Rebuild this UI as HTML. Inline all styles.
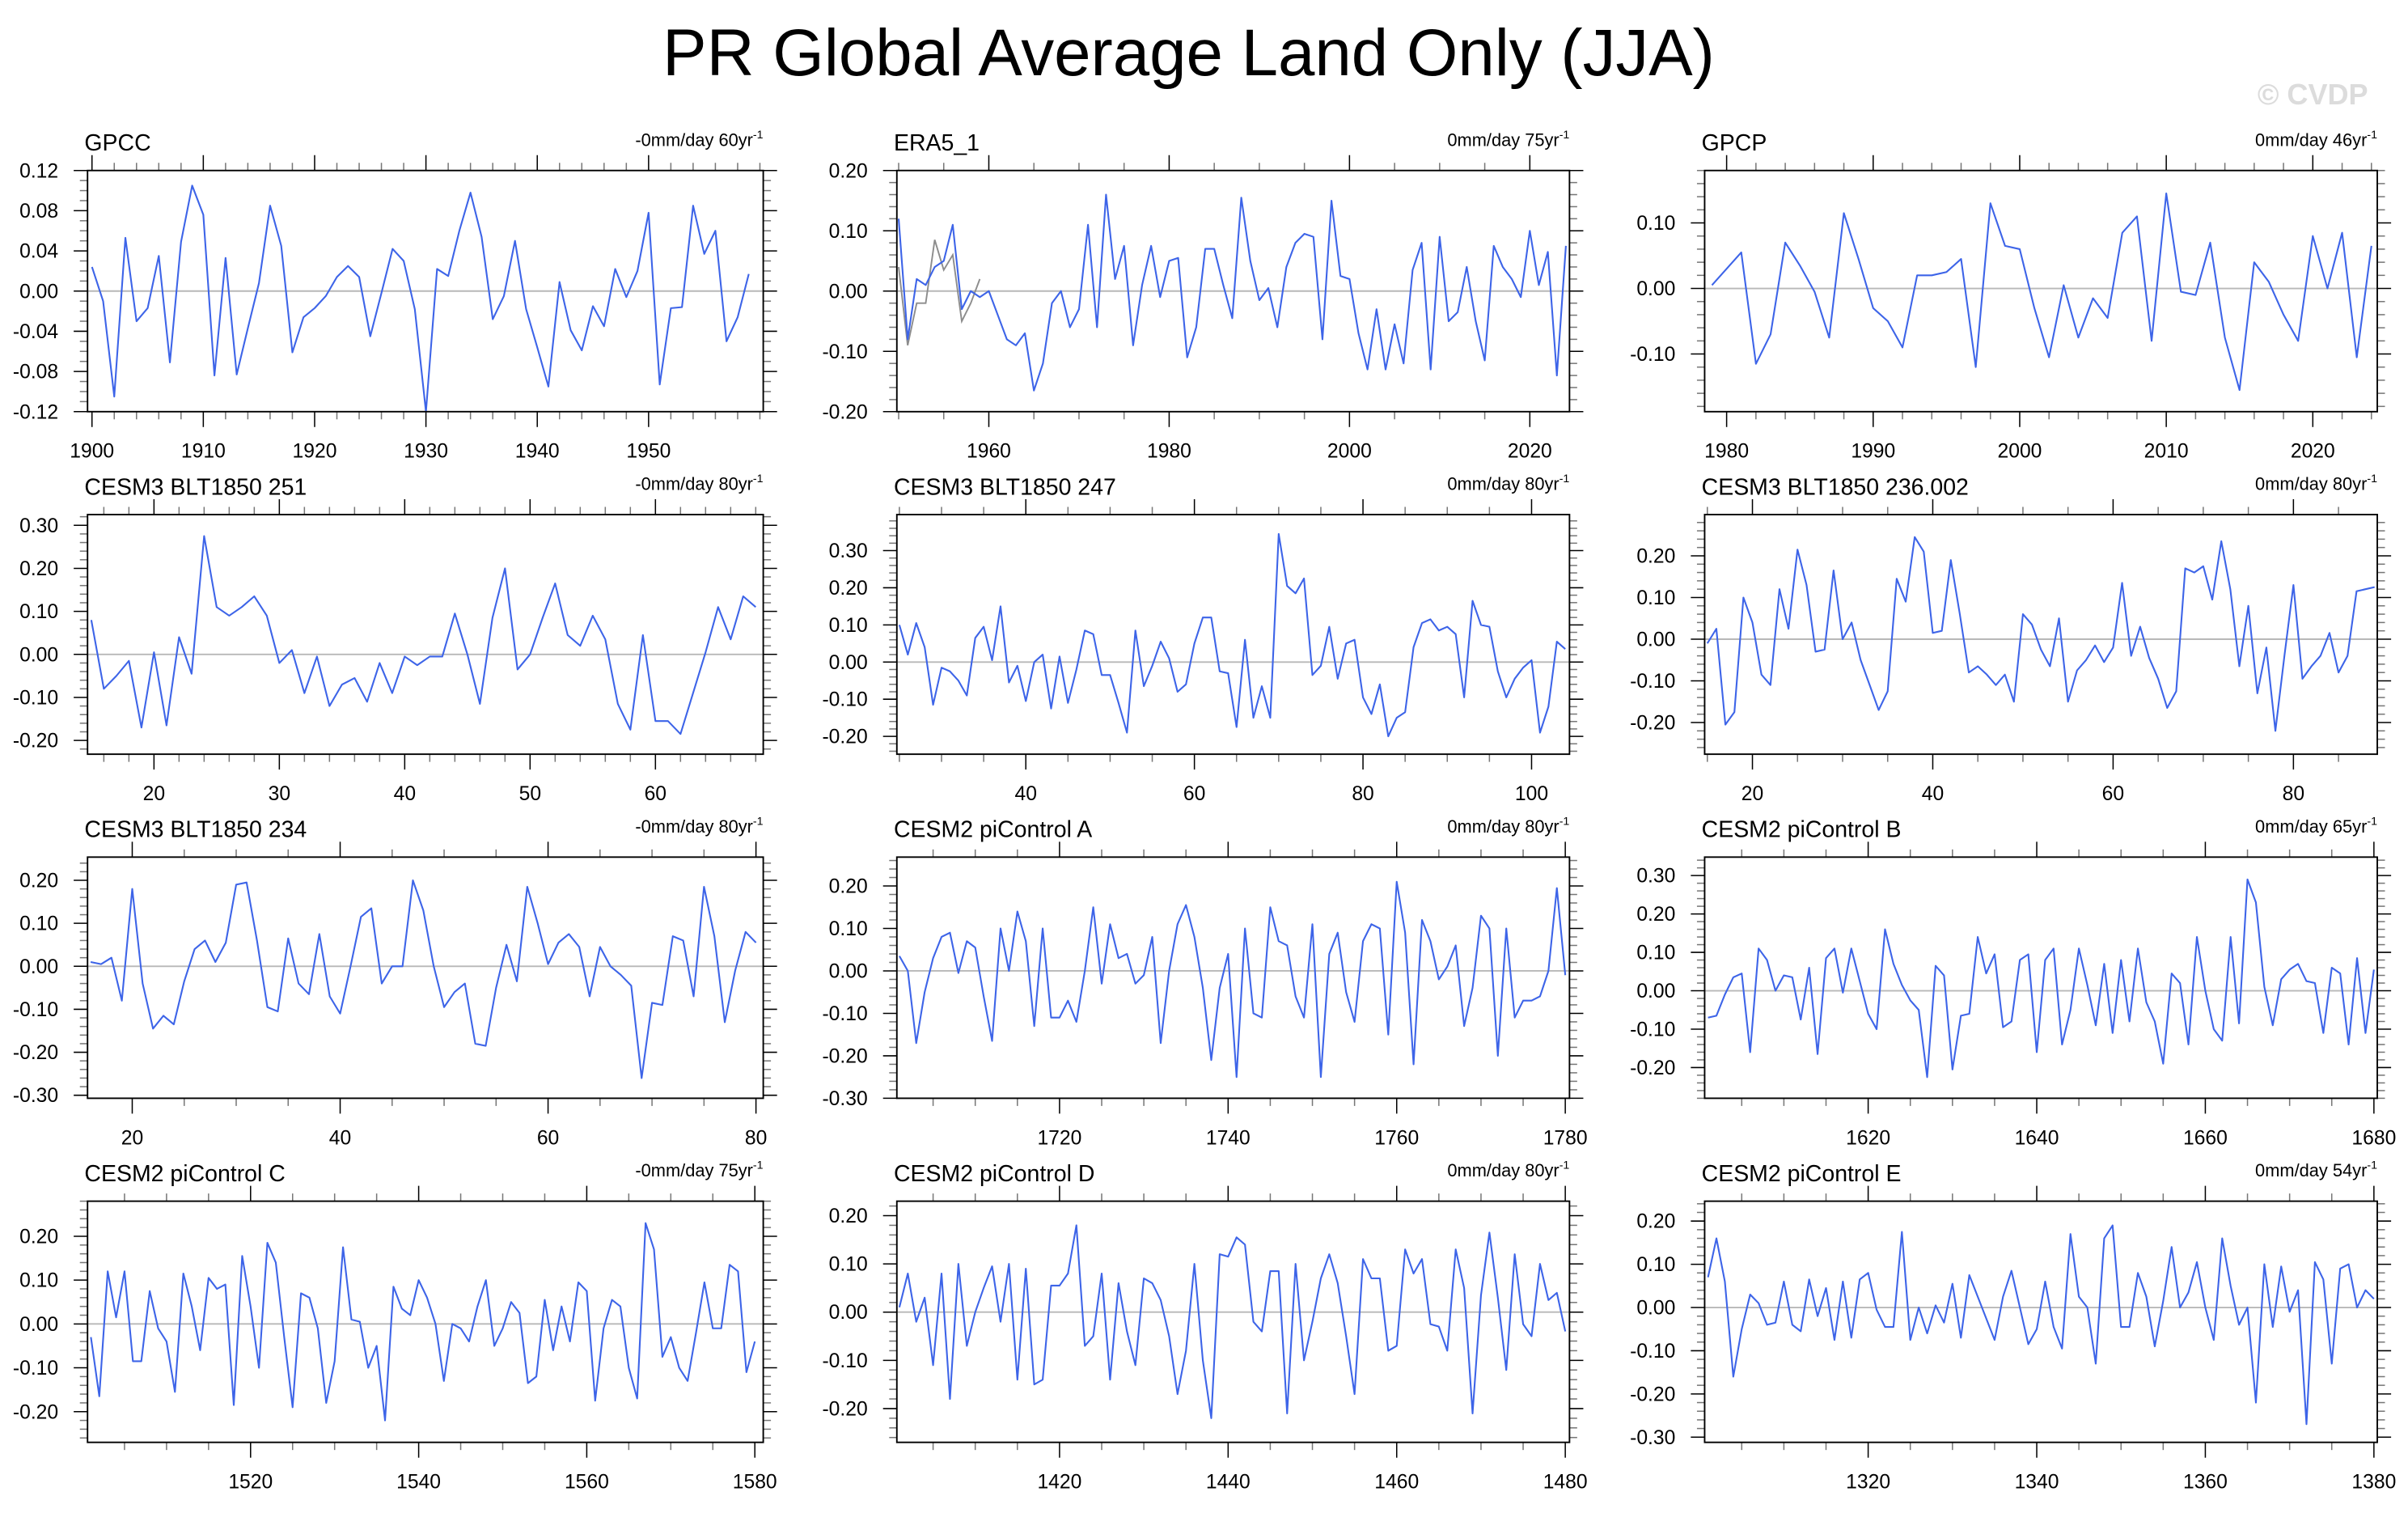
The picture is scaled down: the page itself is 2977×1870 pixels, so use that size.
<!DOCTYPE html>
<html><head><meta charset="utf-8"><title>PR Global Average Land Only (JJA)</title>
<style>
html,body{margin:0;padding:0;background:#fff;}
svg{display:block;font-family:"Liberation Sans",Arial,sans-serif;}
</style></head>
<body>
<svg id="fig" width="2977" height="1870" viewBox="0 0 1568 985" preserveAspectRatio="none" xmlns="http://www.w3.org/2000/svg">
<text x="774" y="49" text-anchor="middle" font-size="43">PR Global Average Land Only (JJA)</text>
<text x="1542" y="68" text-anchor="end" font-size="19" font-weight="bold" fill="#dcdcdc">© CVDP</text>
<g id="panels"></g>
</svg>
<script>
// ---- data arrays ----
const gpccStart = 1900;
const gpccVals = [0.024,-0.010,-0.105,0.053,-0.030,-0.017,0.035,-0.071,0.049,0.105,0.076,-0.084,0.033,-0.083,-0.037,0.008,0.085,0.045,-0.061,-0.026,-0.017,-0.005,0.014,0.025,0.014,-0.045,-0.002,0.042,0.030,-0.018,-0.120,0.022,0.015,0.060,0.098,0.054,-0.028,-0.005,0.050,-0.018,-0.056,-0.095,0.009,-0.039,-0.059,-0.015,-0.035,0.022,-0.006,0.020,0.078,-0.093,-0.017,-0.016,0.085,0.037,0.060,-0.050,-0.026,0.017];
const era5Start = 1950;
const era5Vals = [0.12,-0.08,0.02,0.01,0.04,0.05,0.11,-0.03,0.00,-0.01,0.00,-0.04,-0.08,-0.09,-0.07,-0.165,-0.12,-0.02,0.00,-0.06,-0.03,0.11,-0.06,0.16,0.02,0.075,-0.09,0.01,0.075,-0.01,0.05,0.055,-0.11,-0.06,0.07,0.07,0.01,-0.045,0.155,0.05,-0.015,0.005,-0.06,0.04,0.08,0.095,0.09,-0.08,0.15,0.025,0.02,-0.07,-0.13,-0.03,-0.13,-0.055,-0.12,0.035,0.08,-0.13,0.09,-0.05,-0.035,0.04,-0.05,-0.115,0.075,0.04,0.02,-0.01,0.10,0.01,0.065,-0.14,0.075];
const era5bStart = 1950;
const era5bVals = [0.04,-0.09,-0.02,-0.02,0.085,0.035,0.06,-0.05,-0.02,0.02];
const gpcpStart = 1979;
const gpcpVals = [0.005,0.03,0.055,-0.115,-0.07,0.07,0.035,-0.005,-0.075,0.115,0.045,-0.03,-0.05,-0.09,0.02,0.02,0.025,0.045,-0.12,0.13,0.065,0.06,-0.03,-0.105,0.005,-0.075,-0.015,-0.045,0.085,0.11,-0.08,0.145,-0.005,-0.01,0.07,-0.075,-0.155,0.04,0.01,-0.04,-0.08,0.08,0.0,0.085,-0.105,0.065];
const c251Start = 15;
const c251Vals = [0.08,-0.08,-0.05,-0.015,-0.17,0.005,-0.165,0.04,-0.045,0.275,0.11,0.09,0.11,0.135,0.09,-0.02,0.01,-0.09,-0.005,-0.12,-0.07,-0.055,-0.11,-0.02,-0.09,-0.005,-0.025,-0.005,-0.005,0.095,0.0,-0.115,0.085,0.20,-0.035,0.0,0.085,0.165,0.045,0.02,0.09,0.035,-0.115,-0.175,0.045,-0.155,-0.155,-0.185,-0.09,0.005,0.11,0.035,0.135,0.11];
const c247Start = 25;
const c247Vals = [0.10,0.02,0.105,0.04,-0.115,-0.015,-0.025,-0.05,-0.09,0.065,0.095,0.005,0.15,-0.055,-0.01,-0.105,0.0,0.02,-0.125,0.015,-0.11,-0.02,0.085,0.075,-0.035,-0.035,-0.11,-0.19,0.085,-0.065,-0.01,0.055,0.01,-0.08,-0.06,0.05,0.12,0.12,-0.025,-0.03,-0.175,0.06,-0.15,-0.065,-0.15,0.345,0.205,0.185,0.225,-0.035,-0.01,0.095,-0.045,0.05,0.06,-0.095,-0.14,-0.06,-0.2,-0.15,-0.135,0.04,0.105,0.115,0.085,0.095,0.075,-0.095,0.165,0.10,0.095,-0.025,-0.095,-0.045,-0.015,0.005,-0.19,-0.12,0.055,0.035];
const c236Start = 15;
const c236Vals = [-0.01,0.025,-0.205,-0.175,0.10,0.04,-0.085,-0.11,0.12,0.025,0.215,0.13,-0.03,-0.025,0.165,0.0,0.04,-0.05,-0.11,-0.17,-0.125,0.145,0.09,0.245,0.21,0.015,0.02,0.19,0.06,-0.08,-0.065,-0.085,-0.11,-0.085,-0.15,0.06,0.035,-0.025,-0.065,0.05,-0.15,-0.075,-0.05,-0.015,-0.055,-0.02,0.135,-0.04,0.03,-0.045,-0.095,-0.165,-0.125,0.17,0.16,0.175,0.095,0.235,0.12,-0.065,0.08,-0.13,-0.02,-0.22,-0.04,0.13,-0.095,-0.065,-0.04,0.015,-0.08,-0.04,0.115,0.12,0.125];
const c234Start = 16;
const c234Vals = [0.01,0.005,0.02,-0.08,0.18,-0.04,-0.145,-0.115,-0.135,-0.035,0.04,0.06,0.01,0.055,0.19,0.195,0.06,-0.095,-0.105,0.065,-0.04,-0.065,0.075,-0.07,-0.11,0.0,0.115,0.135,-0.04,0.0,0.0,0.20,0.13,0.0,-0.095,-0.06,-0.04,-0.18,-0.185,-0.05,0.05,-0.035,0.185,0.1,0.005,0.055,0.075,0.045,-0.07,0.045,0.0,-0.02,-0.045,-0.26,-0.085,-0.09,0.07,0.06,-0.07,0.185,0.07,-0.13,-0.01,0.08,0.055];
const pcAStart = 1701;
const pcAVals = [0.035,0.0,-0.17,-0.05,0.03,0.08,0.09,-0.005,0.07,0.055,-0.06,-0.165,0.10,0.0,0.14,0.07,-0.13,0.10,-0.11,-0.11,-0.07,-0.12,0.0,0.15,-0.03,0.11,0.03,0.04,-0.03,-0.01,0.08,-0.17,0.0,0.11,0.155,0.08,-0.04,-0.21,-0.04,0.04,-0.25,0.10,-0.10,-0.11,0.15,0.07,0.06,-0.06,-0.11,0.11,-0.25,0.04,0.09,-0.05,-0.12,0.07,0.11,0.10,-0.15,0.21,0.09,-0.22,0.12,0.07,-0.02,0.01,0.06,-0.13,-0.04,0.13,0.10,-0.20,0.10,-0.11,-0.07,-0.07,-0.06,0.0,0.195,-0.01];
const pcBStart = 1601;
const pcBVals = [-0.07,-0.065,-0.01,0.035,0.045,-0.16,0.11,0.08,0.0,0.04,0.035,-0.075,0.06,-0.165,0.085,0.11,-0.005,0.11,0.025,-0.06,-0.1,0.16,0.07,0.015,-0.025,-0.05,-0.225,0.065,0.04,-0.205,-0.065,-0.06,0.14,0.045,0.095,-0.095,-0.08,0.08,0.095,-0.16,0.08,0.11,-0.14,-0.05,0.11,0.015,-0.09,0.07,-0.11,0.08,-0.08,0.11,-0.03,-0.08,-0.19,0.045,0.02,-0.14,0.14,0.0,-0.1,-0.13,0.14,-0.085,0.29,0.23,0.01,-0.09,0.03,0.055,0.07,0.025,0.02,-0.11,0.06,0.045,-0.14,0.085,-0.11,0.055];
const pcCStart = 1501;
const pcCVals = [-0.03,-0.165,0.12,0.015,0.12,-0.085,-0.085,0.075,-0.01,-0.04,-0.155,0.115,0.04,-0.06,0.105,0.08,0.09,-0.185,0.155,0.04,-0.1,0.185,0.14,-0.03,-0.19,0.07,0.06,-0.01,-0.18,-0.085,0.175,0.01,0.005,-0.1,-0.05,-0.22,0.085,0.035,0.02,0.1,0.06,0.0,-0.13,0.0,-0.01,-0.04,0.04,0.1,-0.05,-0.01,0.05,0.025,-0.135,-0.12,0.055,-0.06,0.04,-0.04,0.095,0.075,-0.175,-0.01,0.055,0.04,-0.1,-0.17,0.23,0.17,-0.075,-0.03,-0.1,-0.13,-0.02,0.095,-0.01,-0.01,0.135,0.12,-0.11,-0.04];
const pcDStart = 1401;
const pcDVals = [0.01,0.08,-0.02,0.03,-0.11,0.08,-0.18,0.10,-0.07,0.0,0.05,0.095,-0.02,0.10,-0.14,0.09,-0.15,-0.14,0.055,0.055,0.08,0.18,-0.07,-0.05,0.08,-0.14,0.06,-0.04,-0.11,0.07,0.06,0.025,-0.05,-0.17,-0.08,0.1,-0.1,-0.22,0.12,0.115,0.155,0.14,-0.02,-0.04,0.085,0.085,-0.21,0.1,-0.1,-0.02,0.07,0.12,0.06,-0.05,-0.17,0.11,0.07,0.07,-0.08,-0.07,0.13,0.08,0.11,-0.025,-0.03,-0.08,0.13,0.05,-0.21,0.035,0.165,0.03,-0.12,0.12,-0.025,-0.05,0.1,0.025,0.04,-0.04];
const pcEStart = 1301;
const pcEVals = [0.07,0.16,0.06,-0.16,-0.05,0.03,0.01,-0.04,-0.035,0.06,-0.04,-0.055,0.065,-0.02,0.045,-0.075,0.06,-0.07,0.065,0.08,-0.005,-0.045,-0.045,0.175,-0.075,0.0,-0.06,0.005,-0.035,0.055,-0.07,0.075,0.025,-0.025,-0.075,0.025,0.085,0.0,-0.085,-0.05,0.06,-0.045,-0.095,0.17,0.025,0.0,-0.13,0.16,0.19,-0.045,-0.045,0.08,0.025,-0.09,0.015,0.14,0.0,0.035,0.105,0.0,-0.075,0.16,0.05,-0.04,0.0,-0.22,0.1,-0.045,0.095,-0.01,0.04,-0.27,0.105,0.065,-0.13,0.09,0.1,0.0,0.04,0.02];

const panelTitles = ["GPCC","ERA5_1","GPCP","CESM3 BLT1850 251","CESM3 BLT1850 247","CESM3 BLT1850 236.002","CESM3 BLT1850 234","CESM2 piControl A","CESM2 piControl B","CESM2 piControl C","CESM2 piControl D","CESM2 piControl E"];
const trendLabels = ["-0mm/day 60yr","0mm/day 75yr","0mm/day 46yr","-0mm/day 80yr","0mm/day 80yr","0mm/day 80yr","-0mm/day 80yr","0mm/day 80yr","0mm/day 65yr","-0mm/day 75yr","0mm/day 80yr","0mm/day 54yr"];

// ---- layout (not data) ----
const colX = [[57,497],[584,1022],[1110,1548]];
const rowY = [[111,268],[335,491],[558,715],[782,939]];
const panels = [
 {series:[[gpccStart,gpccVals]], xr:[1899.6,1960.3], yr:[-0.12,0.12], xt:[1900,1910,1920,1930,1940,1950], xm:2, yt:[-0.12,-0.08,-0.04,0,0.04,0.08,0.12], ym:0.01},
 {series:[[era5Start,era5Vals]], gray:[era5bStart,era5bVals], xr:[1949.8,2024.4], yr:[-0.2,0.2], xt:[1960,1980,2000,2020], xm:5, yt:[-0.2,-0.1,0,0.1,0.2], ym:0.02},
 {series:[[gpcpStart,gpcpVals]], xr:[1978.5,2024.4], yr:[-0.188,0.18], xt:[1980,1990,2000,2010,2020], xm:2, yt:[-0.1,0,0.1], ym:0.02},
 {series:[[c251Start,c251Vals]], xr:[14.7,68.6], yr:[-0.232,0.325], xt:[20,30,40,50,60], xm:2, yt:[-0.2,-0.1,0,0.1,0.2,0.3], ym:0.02},
 {series:[[c247Start,c247Vals]], xr:[24.7,104.5], yr:[-0.248,0.397], xt:[40,60,80,100], xm:5, yt:[-0.2,-0.1,0,0.1,0.2,0.3], ym:0.02},
 {series:[[c236Start,c236Vals]], xr:[14.7,89.3], yr:[-0.276,0.299], xt:[20,40,60,80], xm:5, yt:[-0.2,-0.1,0,0.1,0.2], ym:0.02},
 {series:[[c234Start,c234Vals]], xr:[15.7,80.7], yr:[-0.307,0.254], xt:[20,40,60,80], xm:5, yt:[-0.3,-0.2,-0.1,0,0.1,0.2], ym:0.02},
 {series:[[pcAStart,pcAVals]], xr:[1700.7,1780.5], yr:[-0.30,0.268], xt:[1720,1740,1760,1780], xm:5, yt:[-0.3,-0.2,-0.1,0,0.1,0.2], ym:0.02},
 {series:[[pcBStart,pcBVals]], xr:[1600.6,1680.4], yr:[-0.28,0.348], xt:[1620,1640,1660,1680], xm:5, yt:[-0.2,-0.1,0,0.1,0.2,0.3], ym:0.02},
 {series:[[pcCStart,pcCVals]], xr:[1500.6,1581], yr:[-0.27,0.28], xt:[1520,1540,1560,1580], xm:5, yt:[-0.2,-0.1,0,0.1,0.2], ym:0.02},
 {series:[[pcDStart,pcDVals]], xr:[1400.7,1480.5], yr:[-0.27,0.23], xt:[1420,1440,1460,1480], xm:5, yt:[-0.2,-0.1,0,0.1,0.2], ym:0.02},
 {series:[[pcEStart,pcEVals]], xr:[1300.6,1380.4], yr:[-0.312,0.246], xt:[1320,1340,1360,1380], xm:5, yt:[-0.3,-0.2,-0.1,0,0.1,0.2], ym:0.02}
];

const NS = "http://www.w3.org/2000/svg";
const root = document.getElementById("panels");
function mk(tag, attrs, parent){
  const e = document.createElementNS(NS, tag);
  for (const k in attrs) e.setAttribute(k, attrs[k]);
  parent.appendChild(e);
  return e;
}
function fmtY(v){ const s = Math.abs(v).toFixed(2); return (v < -1e-9 ? "-" : "") + s; }

panels.forEach((p, i) => {
  const [x0, x1] = colX[i % 3];
  const [y0, y1] = rowY[Math.floor(i / 3)];
  const sx = v => x0 + (v - p.xr[0]) / (p.xr[1] - p.xr[0]) * (x1 - x0);
  const sy = v => y1 - (v - p.yr[0]) / (p.yr[1] - p.yr[0]) * (y1 - y0);
  const g = mk("g", {}, root);
  
  

  const t = mk("text", {x: x0 - 2, y: y0 - 13, "font-size": 15}, g);
  t.textContent = panelTitles[i];
  
  

  const r = mk("text", {x: x1, y: y0 - 16, "font-size": 11.5, "text-anchor": "end"}, g);
  r.textContent = trendLabels[i];
  const sup = mk("tspan", {dy: -5, "font-size": 7.5}, r);
  sup.textContent = "-1";
  
  

  const z = mk("line", {x1: x0, x2: x1, y1: sy(0), y2: sy(0), stroke: "#b8b8b8", "stroke-width": 1}, g);
  
  

  const tk = mk("g", {stroke: "#000", "stroke-width": 0.8}, g);
  
  
  for (let v = Math.ceil(p.yr[0] / p.ym - 1e-6) * p.ym; v <= p.yr[1] + 1e-9; v += p.ym) {
    const y = sy(v);
    const major = p.yt.some(m => Math.abs(m - v) < 1e-6);
    const L = major ? 9 : 5;
    mk("line", {x1: x0 - L, x2: x0, y1: y, y2: y, stroke: major ? "#000" : "#777"}, tk);
    mk("line", {x1: x1, x2: x1 + L, y1: y, y2: y, stroke: major ? "#000" : "#777"}, tk);
  }
  for (let v = Math.ceil(p.xr[0] / p.xm - 1e-6) * p.xm; v <= p.xr[1] + 1e-9; v += p.xm) {
    const x = sx(v);
    const major = p.xt.includes(Math.round(v));
    const L = major ? 10 : 5;
    mk("line", {x1: x, x2: x, y1: y0 - L, y2: y0, stroke: major ? "#000" : "#777"}, tk);
    mk("line", {x1: x, x2: x, y1: y1, y2: y1 + L, stroke: major ? "#000" : "#777"}, tk);
  }
  p.yt.forEach(v => {
    const lt = mk("text", {x: x0 - 19, y: sy(v) + 4.5, "font-size": 13, "text-anchor": "end"}, g);
    lt.textContent = fmtY(v);
    
    
  });
  p.xt.forEach(v => {
    const lt = mk("text", {x: sx(v), y: y1 + 30, "font-size": 13, "text-anchor": "middle"}, g);
    lt.textContent = String(v);
    
    
  });

  if (p.gray) {
    const [st, vals] = p.gray;
    const gl = mk("polyline", {fill: "none", stroke: "#8c8c8c", "stroke-width": 1,
      points: vals.map((v, k) => sx(st + k).toFixed(2) + "," + sy(v).toFixed(2)).join(" ")}, g);
    
    
  }
  p.series.forEach(([st, vals]) => {
    const pl = mk("polyline", {fill: "none", stroke: "#3d64e8", "stroke-width": 1.1, "stroke-linejoin": "round",
      points: vals.map((v, k) => sx(st + k).toFixed(2) + "," + sy(v).toFixed(2)).join(" ")}, g);
    
    
  });

  const box = mk("rect", {x: x0, y: y0, width: x1 - x0, height: y1 - y0, fill: "none", stroke: "#000", "stroke-width": 1}, g);
  
  
});
</script>
</body></html>
